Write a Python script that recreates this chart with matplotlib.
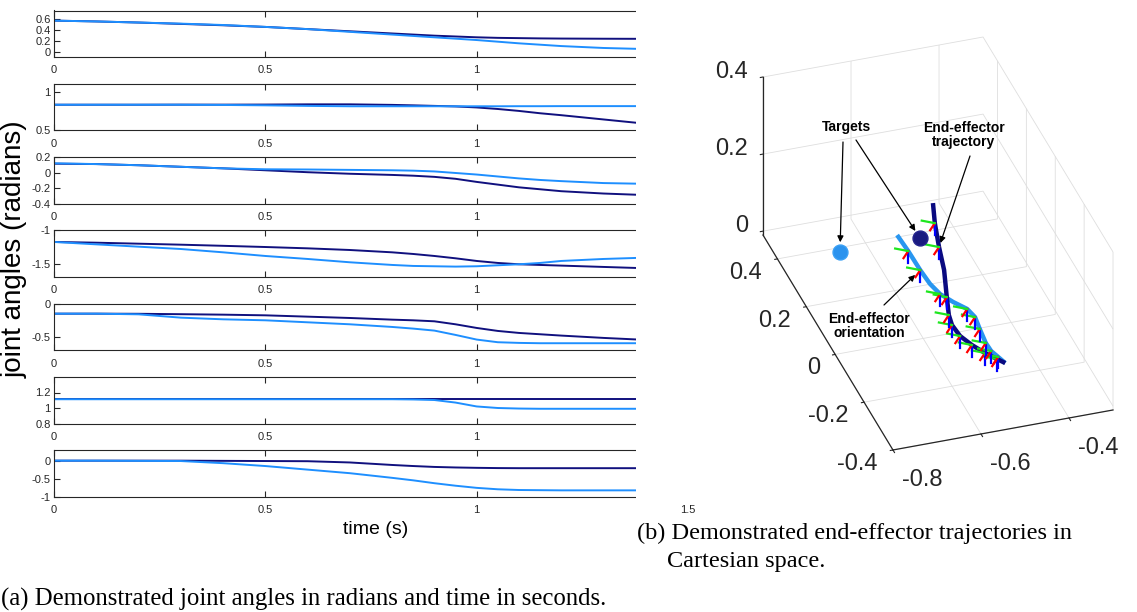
import numpy as np
import matplotlib
matplotlib.use('Agg')
import matplotlib.pyplot as plt
from matplotlib.patches import Rectangle

plt.rcParams['axes.unicode_minus'] = False
plt.rcParams['grid.color'] = '#dedede'
plt.rcParams['grid.linewidth'] = 0.6

W, H, DPI = 1137, 612, 100

# ---------------- data: joint angles (left panel) ----------------
time_s = [0, 0.1, 0.2, 0.3, 0.4, 0.5, 0.6, 0.7, 0.8, 0.85, 0.9, 0.95, 1.0, 1.05, 1.1, 1.15, 1.2, 1.3, 1.4]

j1_dark = [0.565, 0.55, 0.53, 0.505, 0.48, 0.45, 0.41, 0.37, 0.33, 0.31, 0.29, 0.275, 0.26, 0.25, 0.245, 0.24, 0.237, 0.234, 0.232]
j1_light = [0.565, 0.55, 0.53, 0.51, 0.485, 0.45, 0.41, 0.36, 0.31, 0.285, 0.26, 0.235, 0.21, 0.18, 0.15, 0.125, 0.10, 0.065, 0.045]
j2_dark = [0.83, 0.83, 0.83, 0.831, 0.831, 0.832, 0.835, 0.835, 0.828, 0.822, 0.815, 0.808, 0.795, 0.775, 0.75, 0.72, 0.695, 0.64, 0.585]
j2_light = [0.83, 0.83, 0.83, 0.83, 0.827, 0.822, 0.815, 0.81, 0.81, 0.81, 0.81, 0.81, 0.81, 0.81, 0.811, 0.811, 0.812, 0.812, 0.812]
j3_dark = [0.115, 0.11, 0.095, 0.075, 0.055, 0.03, 0.005, -0.015, -0.03, -0.04, -0.055, -0.08, -0.12, -0.155, -0.19, -0.215, -0.24, -0.27, -0.29]
j3_light = [0.12, 0.11, 0.095, 0.075, 0.055, 0.043, 0.04, 0.035, 0.03, 0.025, 0.015, -0.005, -0.025, -0.05, -0.075, -0.095, -0.11, -0.135, -0.145]
j4_dark = [-1.174, -1.185, -1.2, -1.215, -1.232, -1.25, -1.27, -1.295, -1.33, -1.355, -1.385, -1.42, -1.46, -1.49, -1.51, -1.52, -1.53, -1.55, -1.57]
j4_light = [-1.174, -1.21, -1.245, -1.28, -1.33, -1.385, -1.43, -1.48, -1.52, -1.535, -1.54, -1.545, -1.54, -1.525, -1.51, -1.49, -1.46, -1.43, -1.41]
j5_dark = [-0.15, -0.15, -0.152, -0.158, -0.165, -0.175, -0.195, -0.215, -0.24, -0.25, -0.265, -0.31, -0.365, -0.41, -0.44, -0.46, -0.48, -0.515, -0.545]
j5_light = [-0.15, -0.15, -0.16, -0.21, -0.235, -0.25, -0.28, -0.31, -0.35, -0.375, -0.405, -0.47, -0.54, -0.58, -0.59, -0.595, -0.595, -0.595, -0.595]
j6_dark = [1.113, 1.113, 1.113, 1.113, 1.113, 1.113, 1.113, 1.113, 1.113, 1.113, 1.113, 1.113, 1.113, 1.113, 1.113, 1.113, 1.113, 1.113, 1.113]
j6_light = [1.113, 1.113, 1.113, 1.113, 1.113, 1.113, 1.113, 1.113, 1.113, 1.11, 1.103, 1.07, 1.02, 1.0, 0.993, 0.99, 0.99, 0.99, 0.99]
j7_dark = [0.01, 0.01, 0.01, 0.01, 0.005, 0.0, -0.005, -0.04, -0.11, -0.14, -0.165, -0.18, -0.19, -0.197, -0.2, -0.2, -0.2, -0.2, -0.2]
j7_light = [0.01, 0.01, 0.005, 0.0, -0.06, -0.14, -0.24, -0.34, -0.47, -0.54, -0.62, -0.69, -0.75, -0.79, -0.81, -0.815, -0.82, -0.82, -0.82]

joint_dark = [j1_dark, j2_dark, j3_dark, j4_dark, j5_dark, j6_dark, j7_dark]
joint_light = [j1_light, j2_light, j3_light, j4_light, j5_light, j6_light, j7_light]
joint_ylims = [(-0.1, 0.75), (0.5, 1.1), (-0.4, 0.2), (-1.7, -1.0), (-0.7, 0.0), (0.8, 1.4), (-1.0, 0.3)]
joint_yticks = [[0, 0.2, 0.4, 0.6], [0.5, 1], [-0.4, -0.2, 0, 0.2], [-1.5, -1], [-0.5, 0], [0.8, 1, 1.2], [-1, -0.5, 0]]
time_ticks = [0, 0.5, 1, 1.5]

# ---------------- data: Cartesian trajectories (right panel) ----------------
dark_x = [-0.515, -0.527, -0.544, -0.561, -0.574, -0.577, -0.571, -0.553, -0.525, -0.507, -0.486, -0.465]
dark_y = [-0.309, -0.288, -0.257, -0.218, -0.176, -0.129, -0.089, -0.020, 0.084, 0.174, 0.267, 0.344]
dark_z = [0.1, 0.1, 0.1, 0.1, 0.1, 0.1, 0.1, 0.1, 0.1, 0.1, 0.1, 0.1]
light_x = [-0.515, -0.522, -0.529, -0.530, -0.525, -0.520, -0.526, -0.546, -0.563, -0.571, -0.574, -0.575, -0.578]
light_y = [-0.309, -0.281, -0.254, -0.220, -0.163, -0.115, -0.079, -0.043, -0.004, 0.041, 0.100, 0.180, 0.248]
light_z = [0.1, 0.1, 0.1, 0.1, 0.1, 0.1, 0.1, 0.1, 0.1, 0.1, 0.1, 0.1, 0.1]
target_x = [-0.692, -0.511]
target_y = [0.296, 0.294]
target_z = [0.05, 0.05]
frame_idx_dark = [1, 2, 3, 4, 5, 6, 7, 9, 10]
frame_idx_light = [1, 2, 3, 4, 5, 6, 8, 10, 11]
frame_red = [-0.616, -0.788, 0.0]
frame_green = [-0.788, 0.616, 0.0]
frame_blue = [0.0, 0.0, -1.0]
frame_len = 0.03
cart_xlim, cart_ylim, cart_zlim = (-0.8, -0.3), (-0.4, 0.5), (-0.01, 0.4)
cart_xticks = [-0.8, -0.6, -0.4]
cart_yticks = [-0.4, -0.2, 0, 0.2, 0.4]
cart_zticks = [0, 0.2, 0.4]

DARK = '#10107e'
LIGHT = '#1e8fff'
AXC = '#262626'
SANS = ['Liberation Sans', 'DejaVu Sans']

fig = plt.figure(figsize=(W / DPI, H / DPI), dpi=DPI)

# ---------------- left panel: 7 stacked axes ----------------
left_px, right_px = 54, 688
for i in range(7):
    top = 10.5 + i * 73.3
    hgt = 46.5
    ax = fig.add_axes([left_px / W, (H - top - hgt) / H, (right_px - left_px) / W, hgt / H])
    ax.plot(time_s, joint_dark[i], color=DARK, lw=1.4)
    ax.plot(time_s, joint_light[i], color=LIGHT, lw=1.4)
    ax.set_xlim(0, 1.5)
    ax.set_ylim(*joint_ylims[i])
    ax.set_xticks(time_ticks, ['%g' % t for t in time_ticks])
    ax.set_yticks(joint_yticks[i], ['%g' % t for t in joint_yticks[i]])
    ax.tick_params(direction='in', length=4, width=0.8, colors=AXC, top=True, right=True)
    ax.tick_params(axis='x', pad=6)
    ax.tick_params(axis='y', pad=2.5)
    for lab in ax.get_xticklabels() + ax.get_yticklabels():
        lab.set_family(SANS)
        lab.set_fontsize(8)
    for sp in ax.spines.values():
        sp.set_color(AXC)
        sp.set_linewidth(0.8)

fig.text(15 / W, (H - 249) / H, 'joint angles (radians)', rotation=90, ha='center', va='center',
         fontsize=20, family=SANS, color='black')
fig.text(376 / W, (H - 530) / H, 'time (s)', ha='center', va='center', fontsize=14,
         family=SANS, color='black')

# white cover (right figure placed over the left one)
fig.patches.append(Rectangle((636 / W, (H - 503) / H), (W - 636) / W, 503 / H,
                             transform=fig.transFigure, facecolor='white', edgecolor='none', zorder=1))

# ---------------- right panel: 3D ----------------
ax3 = fig.add_axes([0.55, 0.05, 0.45, 0.9], projection='3d', proj_type='ortho', computed_zorder=False)
ax3.set_zorder(2)
ax3.patch.set_alpha(0)
ax3.view_init(elev=33.25, azim=-108.34)
ax3.set_box_aspect((1.227, 2.186, 1.0))

ax3.plot(light_x, light_y, light_z, color='#2896f0', lw=3.2, zorder=3, solid_capstyle='butt')
ax3.plot(dark_x, dark_y, dark_z, color='#0a0a80', lw=3.2, zorder=4, solid_capstyle='butt')
for xs_, ys_, zs_, idx in [(dark_x, dark_y, dark_z, frame_idx_dark), (light_x, light_y, light_z, frame_idx_light)]:
    for k in idx:
        for vec, col in [(frame_blue, '#0000ff'), (frame_red, '#ff0000'), (frame_green, '#1ee61e')]:
            ax3.plot([xs_[k], xs_[k] + frame_len * vec[0]],
                     [ys_[k], ys_[k] + frame_len * vec[1]],
                     [zs_[k], zs_[k] + frame_len * vec[2]], color=col, lw=1.6, zorder=5)
ax3.scatter(target_x[:1], target_y[:1], target_z[:1], s=115, color='#2b93ee', edgecolors='#3aa0f5',
            depthshade=False, zorder=6)
ax3.scatter(target_x[1:], target_y[1:], target_z[1:], s=115, color='#1a1a80', edgecolors='#24248e',
            depthshade=False, zorder=6)

ax3.set_xlim(*cart_xlim)
ax3.set_ylim(*cart_ylim)
ax3.set_zlim(*cart_zlim)
ax3.set_xticks(cart_xticks, ['%g' % t for t in cart_xticks])
ax3.set_yticks(cart_yticks, ['%g' % t for t in cart_yticks])
ax3.set_zticks(cart_zticks, ['%g' % t for t in cart_zticks])
for axis, ha, va in ((ax3.xaxis, 'left', 'center_baseline'), (ax3.yaxis, 'right', 'center'),
                     (ax3.zaxis, 'right', 'center_baseline')):
    axis.set_pane_color((1, 1, 1, 0))
    axis.pane.set_edgecolor('#d4d4d4')
    axis.line.set_color(AXC)
    axis.line.set_linewidth(0.9)
    axis._axinfo['grid']['color'] = '#dedede'
    axis._axinfo['grid']['linewidth'] = 0.6
    axis._axinfo['tick']['inward_factor'] = 0.15
    axis._axinfo['tick']['outward_factor'] = 0.0
    for lab in axis.get_ticklabels():
        lab.set_fontsize(17)
        lab.set_color(AXC)
        lab.set_family(SANS)
        lab.set_ha(ha)
        lab.set_va(va)
ax3.tick_params(axis='x', pad=5.5, colors=AXC)
ax3.tick_params(axis='y', pad=5.0, colors=AXC)
ax3.tick_params(axis='z', pad=0.0, colors=AXC)


def proj_px(ax, xs, ys, zs):
    M = ax.get_proj()
    v = np.vstack([np.asarray(xs, float), np.asarray(ys, float), np.asarray(zs, float), np.ones(len(xs))])
    p = M @ v
    return ax.transData.transform(np.column_stack([p[0] / p[3], p[1] / p[3]]))


# fit the 3D box into its place in the picture (floor corners)
corner_x = [cart_xlim[0], cart_xlim[1]]
corner_y = [cart_ylim[1], cart_ylim[0]]
corner_z = [cart_zlim[0], cart_zlim[0]]
tA = np.array([763.0, H - 235.0])
tC = np.array([1113.0, H - 410.0])
side, cx, cy = 560.0, 938.0, H - 243.0
for _ in range(4):
    ax3.set_position([(cx - side / 2) / W, (cy - side / 2) / H, side / W, side / H])
    fig.canvas.draw()
    pts = proj_px(ax3, corner_x, corner_y, corner_z)
    ratio = np.linalg.norm(tC - tA) / np.linalg.norm(pts[1] - pts[0])
    c = np.array([cx, cy])
    new_mid = c + (pts.mean(axis=0) - c) * ratio
    side *= ratio
    cx += (tA + tC)[0] / 2 - new_mid[0]
    cy += (tA + tC)[1] / 2 - new_mid[1]
ax3.set_position([(cx - side / 2) / W, (cy - side / 2) / H, side / W, side / H])
fig.canvas.draw()

# annotations (arrows aim at the plotted data)
tgt_px = proj_px(ax3, target_x, target_y, target_z)
dk_px = proj_px(ax3, [dark_x[9]], [dark_y[9]], [dark_z[9]])[0]
lt_px = proj_px(ax3, [light_x[10]], [light_y[10]], [light_z[10]])[0]
ann = dict(xycoords='figure pixels', textcoords='figure pixels')
arrow = dict(arrowstyle='-|>', color='black', lw=0.9, mutation_scale=9, shrinkA=0)
bold = dict(fontsize=10, fontweight='bold', family=SANS, ha='center', va='center')
fig.text(846 / W, (H - 127) / H, 'Targets', zorder=10, **bold)
fig.text(964 / W, (H - 135) / H, 'End-effector\ntrajectory', zorder=10, linespacing=1.05, **bold)
fig.text(869 / W, (H - 326) / H, 'End-effector\norientation', zorder=10, linespacing=1.05, **bold)
ax3.annotate('', xy=tuple(tgt_px[0]), xytext=(843, H - 142), arrowprops=dict(arrow, shrinkB=7), **ann)
ax3.annotate('', xy=tuple(tgt_px[1]), xytext=(856, H - 140), arrowprops=dict(arrow, shrinkB=6), **ann)
ax3.annotate('', xy=tuple(dk_px), xytext=(970, H - 156), arrowprops=dict(arrow, shrinkB=3), **ann)
ax3.annotate('', xy=tuple(lt_px), xytext=(884, H - 305), arrowprops=dict(arrow, shrinkB=5), **ann)

# captions
serif = ['Liberation Serif', 'DejaVu Serif']
fig.text(1 / W, (H - 599) / H, '(a) Demonstrated joint angles in radians and time in seconds.',
         ha='left', va='center', fontsize=17.8, family=serif, zorder=10)
fig.text(637 / W, (H - 533) / H, '(b) Demonstrated end-effector trajectories in',
         ha='left', va='center', fontsize=17.5, family=serif, zorder=10)
fig.text(667 / W, (H - 561) / H, 'Cartesian space.',
         ha='left', va='center', fontsize=17.5, family=serif, zorder=10)

fig.savefig('out.png', dpi=DPI)
